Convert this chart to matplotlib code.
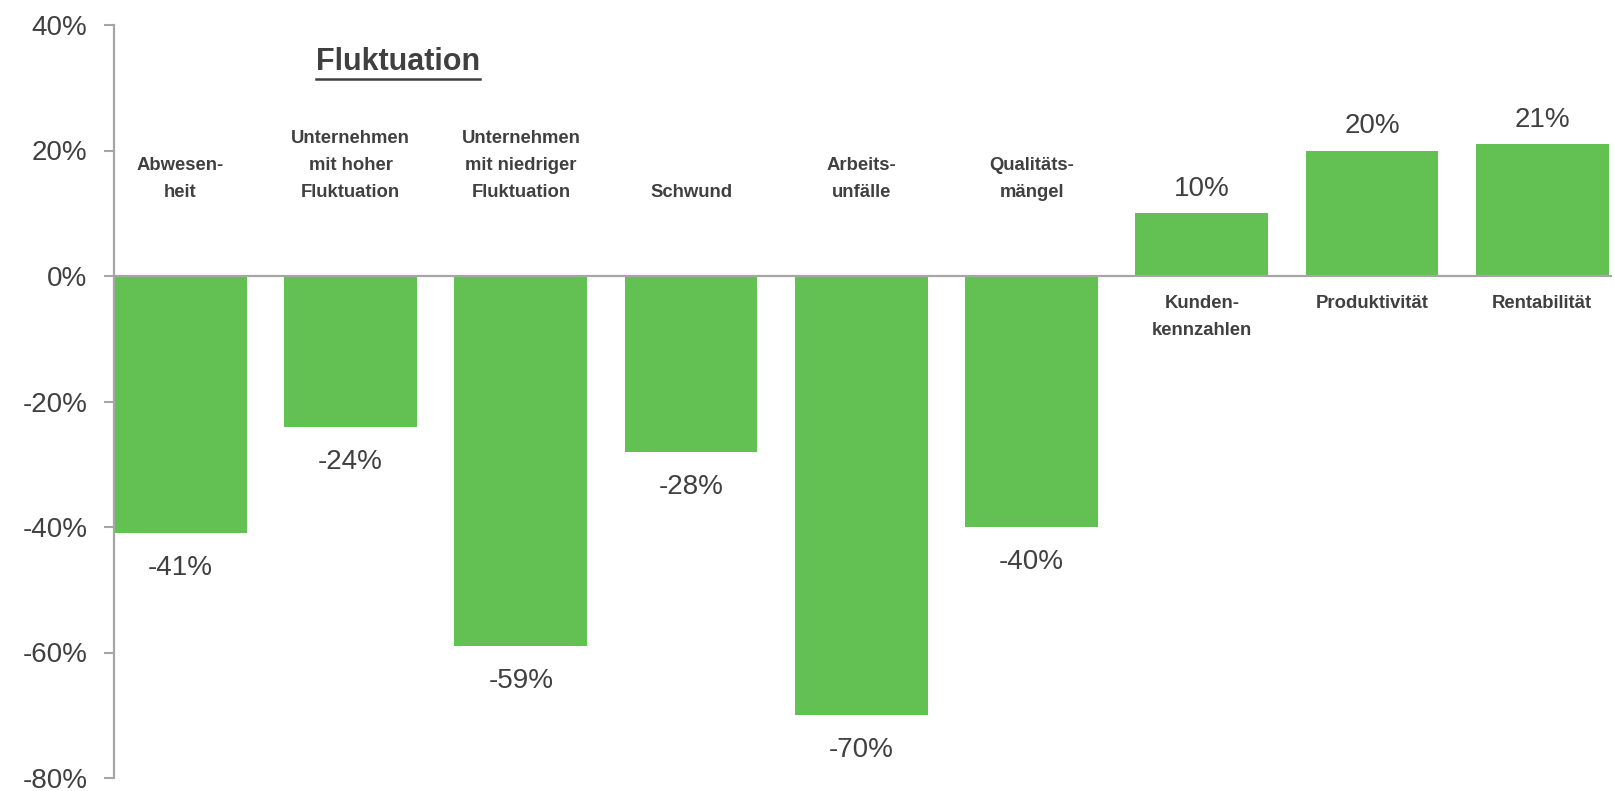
import matplotlib
matplotlib.use("Agg")
import matplotlib.pyplot as plt
from matplotlib.ticker import FuncFormatter

categories = ["Abwesen-\nheit", "Unternehmen\nmit hoher\nFluktuation",
              "Unternehmen\nmit niedriger\nFluktuation", "Schwund",
              "Arbeits-\nunfälle", "Qualitäts-\nmängel",
              "Kunden-\nkennzahlen", "Produktivität", "Rentabilität"]
values = [-41, -24, -59, -28, -70, -40, 10, 20, 21]
value_labels = ["-41%", "-24%", "-59%", "-28%", "-70%", "-40%", "10%", "20%", "21%"]
yticks = [-80, -60, -40, -20, 0, 20, 40]
title_text = "Fluktuation"

plt.rcParams['font.family'] = ['Liberation Sans', 'DejaVu Sans']
green = "#62C152"
txt = "#404040"
gray = "#A6A6A6"

fig = plt.figure(figsize=(16.15, 7.91), dpi=100)
ax = fig.add_axes([114/1615, 1 - 778/791, (1612-114)/1615, (778-25)/791])

x = list(range(len(values)))
ax.bar(x, values, width=0.78, color=green, zorder=2)
ax.axhline(0, color=gray, lw=1.6, zorder=3)

ax.set_xlim(-0.39, 8.41)
ax.set_ylim(-80, 40)
ax.set_yticks(yticks)
ax.yaxis.set_major_formatter(FuncFormatter(lambda v, p: f"{int(v)}%"))
ax.tick_params(axis='y', length=7, width=1.5, color=gray, labelsize=20,
               labelcolor=txt, pad=12, direction='out')
ax.set_xticks([])
for s in ["top", "right", "bottom"]:
    ax.spines[s].set_visible(False)
ax.spines["left"].set_color(gray)
ax.spines["left"].set_linewidth(1.6)

for xi, v, lab, cat in zip(x, values, value_labels, categories):
    if v < 0:
        ax.annotate(lab, (xi, v), xytext=(0, -16), textcoords="offset points",
                    ha="center", va="top", fontsize=20, color=txt)
        ax.text(xi, 12.0, cat, ha="center", va="bottom", fontsize=13.3,
                fontweight="bold", color=txt, linespacing=1.75)
    else:
        ax.annotate(lab, (xi, v), xytext=(0, 8), textcoords="offset points",
                    ha="center", va="bottom", fontsize=20, color=txt)
        ax.text(xi, -3.0, cat, ha="center", va="top", fontsize=13.3,
                fontweight="bold", color=txt, linespacing=1.75)

t = ax.text(398/1615, 1 - 62/791, title_text, transform=fig.transFigure,
            ha="center", va="center", fontsize=22, fontweight="bold", color=txt)
fig.canvas.draw()
bb = t.get_window_extent()
inv = fig.transFigure.inverted()
(x0, y0), (x1, y1) = inv.transform([[bb.x0, bb.y0], [bb.x1, bb.y1]])
fig.add_artist(plt.Line2D([x0, x1], [y0 - 0.002, y0 - 0.002], transform=fig.transFigure,
                          color=txt, lw=1.8))

fig.savefig("out.png", dpi=100)
